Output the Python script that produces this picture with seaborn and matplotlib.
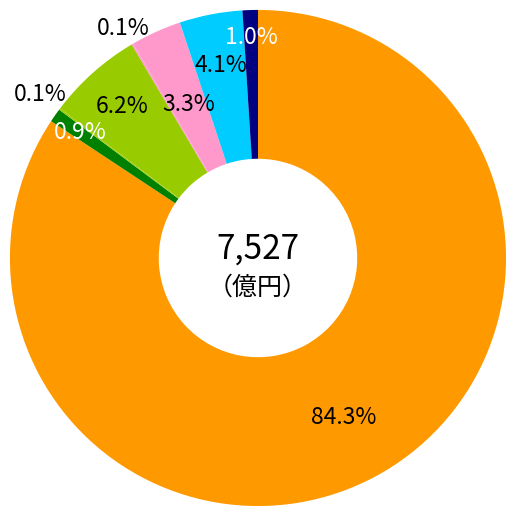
import numpy as np
import seaborn as sns
import matplotlib.pyplot as plt

# データ
shares = [84.3, 0.9, 0.1, 6.2, 0.1, 3.3, 4.1, 1.0]
labels = ["84.3%", "0.9%", "0.1%", "6.2%", "0.1%", "3.3%", "4.1%", "1.0%"]
colors = ["#FF9900", "#008000", "#99CC00", "#99CC00", "#FF99CC", "#FF99CC", "#00CCFF", "#000080"]
total_label = "7,527"
unit_label = "（億円）"

# ラベルの位置（半径）と色
label_r = [0.73, 0.877, 1.10, 0.82, 1.075, 0.68, 0.79, 0.89]
label_colors = ["black", "white", "black", "black", "black", "black", "black", "white"]

sns.set_theme(style="white")
plt.rcParams['font.family'] = ['Noto Sans CJK JP', 'DejaVu Sans']

fig = plt.figure(figsize=(5.10, 5.11), dpi=100)
ax = fig.add_axes([0, 0, 1, 1])

ax.pie(shares, colors=colors, startangle=90, counterclock=False,
       radius=1.0, wedgeprops=dict(width=0.6, linewidth=0))

# ラベル: データから中心角を計算
cum = np.cumsum([0] + shares[:-1])
for s, c0, lab, r, col in zip(shares, cum, labels, label_r, label_colors):
    mid = np.deg2rad(90 - (c0 + s / 2) / 100 * 360)
    ax.text(r * np.cos(mid), r * np.sin(mid), lab, ha="center", va="center",
            fontsize=16.5, color=col)

ax.text(0, 0.036, total_label, ha="center", va="center", fontsize=24, color="black")
ax.text(0, -0.12, unit_label, ha="center", va="center", fontsize=18, color="black")

ax.set_xlim(-1.040, 1.016)
ax.set_ylim(-1.020, 1.040)
ax.set_aspect("auto")
ax.axis("off")

fig.savefig("out.png", dpi=100)
